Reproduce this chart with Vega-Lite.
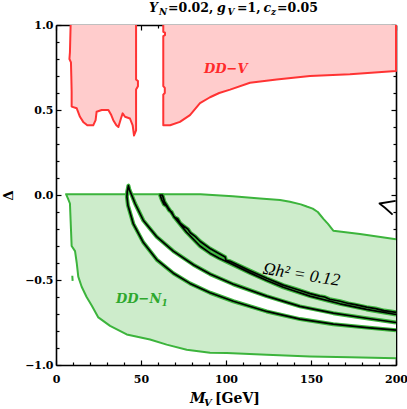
{
  "$schema": "https://vega.github.io/schema/vega-lite/v6.json",
  "width": 340,
  "height": 340,
  "autosize": {"type": "none"},
  "padding": {"left": 56, "top": 25, "right": 11, "bottom": 44},
  "background": "white",
  "config": {
    "view": {"stroke": null},
    "axis": {
      "domainColor": "black", "domainWidth": 1.6, "tickColor": "black", "tickWidth": 1.2,
      "labelFont": "DejaVu Serif", "labelFontWeight": "bold", "labelFontSize": 11, "labelColor": "black",
      "grid": false, "zindex": 1, "labelFlush": false, "labelOverlap": false,
      "titleFont": "DejaVu Serif", "titleFontWeight": "bold", "titleColor": "black"
    }
  },
  "datasets": {
    "red": [
      {"g": "r1", "o": 1, "x": 8.6, "y": 1.0}, {"g": "r1", "o": 2, "x": 8.4, "y": 0.92}, {"g": "r1", "o": 3, "x": 8.2, "y": 0.84},
      {"g": "r1", "o": 4, "x": 7.9, "y": 0.8}, {"g": "r1", "o": 5, "x": 8.8, "y": 0.78}, {"g": "r1", "o": 6, "x": 9.0, "y": 0.7},
      {"g": "r1", "o": 7, "x": 9.2, "y": 0.61}, {"g": "r1", "o": 8, "x": 9.2, "y": 0.52}, {"g": "r1", "o": 9, "x": 12.2, "y": 0.51},
      {"g": "r1", "o": 10, "x": 14.1, "y": 0.46}, {"g": "r1", "o": 11, "x": 16.0, "y": 0.43}, {"g": "r1", "o": 12, "x": 18.4, "y": 0.41},
      {"g": "r1", "o": 13, "x": 21.9, "y": 0.41}, {"g": "r1", "o": 14, "x": 23.3, "y": 0.44}, {"g": "r1", "o": 15, "x": 23.9, "y": 0.49},
      {"g": "r1", "o": 16, "x": 26.9, "y": 0.5}, {"g": "r1", "o": 17, "x": 30.8, "y": 0.5}, {"g": "r1", "o": 18, "x": 32.5, "y": 0.47},
      {"g": "r1", "o": 19, "x": 33.7, "y": 0.44}, {"g": "r1", "o": 20, "x": 35.5, "y": 0.41}, {"g": "r1", "o": 21, "x": 36.7, "y": 0.4},
      {"g": "r1", "o": 22, "x": 38.2, "y": 0.45}, {"g": "r1", "o": 23, "x": 39.2, "y": 0.48}, {"g": "r1", "o": 24, "x": 40.6, "y": 0.46},
      {"g": "r1", "o": 25, "x": 43.5, "y": 0.45}, {"g": "r1", "o": 26, "x": 45.1, "y": 0.41}, {"g": "r1", "o": 27, "x": 45.9, "y": 0.35},
      {"g": "r1", "o": 28, "x": 47.1, "y": 0.38}, {"g": "r1", "o": 29, "x": 47.1, "y": 0.62}, {"g": "r1", "o": 30, "x": 48.2, "y": 0.64},
      {"g": "r1", "o": 31, "x": 48.2, "y": 0.67}, {"g": "r1", "o": 32, "x": 47.1, "y": 0.68}, {"g": "r1", "o": 33, "x": 47.1, "y": 1.0},
      {"g": "r2", "o": 1, "x": 63.1, "y": 1.0}, {"g": "r2", "o": 2, "x": 63.1, "y": 0.96}, {"g": "r2", "o": 3, "x": 64.1, "y": 0.955},
      {"g": "r2", "o": 4, "x": 64.1, "y": 0.94}, {"g": "r2", "o": 5, "x": 63.1, "y": 0.935}, {"g": "r2", "o": 6, "x": 63.1, "y": 0.64},
      {"g": "r2", "o": 7, "x": 64.0, "y": 0.63}, {"g": "r2", "o": 8, "x": 64.0, "y": 0.6}, {"g": "r2", "o": 9, "x": 63.1, "y": 0.59},
      {"g": "r2", "o": 10, "x": 63.1, "y": 0.41}, {"g": "r2", "o": 11, "x": 67.1, "y": 0.41}, {"g": "r2", "o": 12, "x": 72.9, "y": 0.43},
      {"g": "r2", "o": 13, "x": 78.8, "y": 0.47}, {"g": "r2", "o": 14, "x": 84.7, "y": 0.54}, {"g": "r2", "o": 15, "x": 90.6, "y": 0.575},
      {"g": "r2", "o": 16, "x": 96.0, "y": 0.6}, {"g": "r2", "o": 17, "x": 102.4, "y": 0.62}, {"g": "r2", "o": 18, "x": 114.1, "y": 0.66},
      {"g": "r2", "o": 19, "x": 129.8, "y": 0.68}, {"g": "r2", "o": 20, "x": 149.4, "y": 0.7}, {"g": "r2", "o": 21, "x": 172.9, "y": 0.71},
      {"g": "r2", "o": 22, "x": 200, "y": 0.73}, {"g": "r2", "o": 23, "x": 200, "y": 1.0}
    ],
    "green": [
      {"g": "g1", "o": 1, "x": 200, "y": -0.96}, {"g": "g1", "o": 2, "x": 172.9, "y": -0.955}, {"g": "g1", "o": 3, "x": 149.4, "y": -0.95},
      {"g": "g1", "o": 4, "x": 124, "y": -0.94}, {"g": "g1", "o": 5, "x": 100.4, "y": -0.93}, {"g": "g1", "o": 6, "x": 90.6, "y": -0.928},
      {"g": "g1", "o": 7, "x": 76.9, "y": -0.91}, {"g": "g1", "o": 8, "x": 65.1, "y": -0.88}, {"g": "g1", "o": 9, "x": 55.3, "y": -0.85},
      {"g": "g1", "o": 10, "x": 41.6, "y": -0.82}, {"g": "g1", "o": 11, "x": 31.8, "y": -0.77}, {"g": "g1", "o": 12, "x": 24.9, "y": -0.72},
      {"g": "g1", "o": 13, "x": 21.0, "y": -0.65}, {"g": "g1", "o": 14, "x": 18.0, "y": -0.6}, {"g": "g1", "o": 15, "x": 15.1, "y": -0.54},
      {"g": "g1", "o": 16, "x": 13.1, "y": -0.48}, {"g": "g1", "o": 17, "x": 12.2, "y": -0.4}, {"g": "g1", "o": 18, "x": 11.2, "y": -0.33},
      {"g": "g1", "o": 19, "x": 9.2, "y": -0.3}, {"g": "g1", "o": 20, "x": 8.6, "y": -0.15}, {"g": "g1", "o": 21, "x": 8.2, "y": -0.05},
      {"g": "g1", "o": 22, "x": 7.0, "y": -0.02}, {"g": "g1", "o": 23, "x": 5.9, "y": 0.005}, {"g": "g1", "o": 24, "x": 85, "y": 0.005},
      {"g": "g1", "o": 25, "x": 92, "y": 0.0}, {"g": "g1", "o": 26, "x": 104, "y": -0.008}, {"g": "g1", "o": 27, "x": 120, "y": -0.02},
      {"g": "g1", "o": 28, "x": 131.8, "y": -0.03}, {"g": "g1", "o": 29, "x": 137.6, "y": -0.04}, {"g": "g1", "o": 30, "x": 144, "y": -0.055},
      {"g": "g1", "o": 31, "x": 147.5, "y": -0.068}, {"g": "g1", "o": 32, "x": 151, "y": -0.08}, {"g": "g1", "o": 33, "x": 154, "y": -0.1},
      {"g": "g1", "o": 34, "x": 157.3, "y": -0.14}, {"g": "g1", "o": 35, "x": 160, "y": -0.17}, {"g": "g1", "o": 36, "x": 163.1, "y": -0.21},
      {"g": "g1", "o": 37, "x": 178.8, "y": -0.23}, {"g": "g1", "o": 38, "x": 200, "y": -0.26},
      {"g": "dot", "o": 1, "x": 9.6, "y": -0.475}, {"g": "dot", "o": 2, "x": 9.8, "y": -0.505}
    ],
    "bands": [
      {"g": "band", "o": 1, "x": 200, "y": -0.75}, {"g": "band", "o": 2, "x": 182.7, "y": -0.725}, {"g": "band", "o": 3, "x": 163.1, "y": -0.695},
      {"g": "band", "o": 4, "x": 143.5, "y": -0.655}, {"g": "band", "o": 5, "x": 123.9, "y": -0.595}, {"g": "band", "o": 6, "x": 104.3, "y": -0.525},
      {"g": "band", "o": 7, "x": 90.6, "y": -0.465}, {"g": "band", "o": 8, "x": 80.8, "y": -0.41}, {"g": "band", "o": 9, "x": 69, "y": -0.33},
      {"g": "band", "o": 10, "x": 59.2, "y": -0.245}, {"g": "band", "o": 11, "x": 51.4, "y": -0.15}, {"g": "band", "o": 12, "x": 46.5, "y": -0.05},
      {"g": "band", "o": 13, "x": 44.5, "y": 0.0}, {"g": "band", "o": 14, "x": 43.2, "y": 0.03}, {"g": "band", "o": 15, "x": 42.6, "y": 0.055},
      {"g": "band", "o": 16, "x": 41.9, "y": 0.02}, {"g": "band", "o": 17, "x": 41.7, "y": -0.01}, {"g": "band", "o": 18, "x": 42.3, "y": -0.06},
      {"g": "band", "o": 19, "x": 45.5, "y": -0.17}, {"g": "band", "o": 20, "x": 51.4, "y": -0.28}, {"g": "band", "o": 21, "x": 59.2, "y": -0.38},
      {"g": "band", "o": 22, "x": 69, "y": -0.46}, {"g": "band", "o": 23, "x": 78.8, "y": -0.52}, {"g": "band", "o": 24, "x": 90.6, "y": -0.575},
      {"g": "band", "o": 25, "x": 104.3, "y": -0.625}, {"g": "band", "o": 26, "x": 123.9, "y": -0.685}, {"g": "band", "o": 27, "x": 143.5, "y": -0.73},
      {"g": "band", "o": 28, "x": 163.1, "y": -0.76}, {"g": "band", "o": 29, "x": 182.7, "y": -0.78}, {"g": "band", "o": 30, "x": 200, "y": -0.795},
      {"g": "pair", "o": 1, "x": 200, "y": -0.69}, {"g": "pair", "o": 2, "x": 193, "y": -0.68}, {"g": "pair", "o": 3, "x": 188, "y": -0.668},
      {"g": "pair", "o": 4, "x": 182.7, "y": -0.66}, {"g": "pair", "o": 5, "x": 176, "y": -0.645}, {"g": "pair", "o": 6, "x": 172, "y": -0.638},
      {"g": "pair", "o": 7, "x": 167.1, "y": -0.625}, {"g": "pair", "o": 8, "x": 161, "y": -0.613}, {"g": "pair", "o": 9, "x": 158, "y": -0.6},
      {"g": "pair", "o": 10, "x": 155, "y": -0.595}, {"g": "pair", "o": 11, "x": 149.4, "y": -0.58}, {"g": "pair", "o": 12, "x": 140, "y": -0.55},
      {"g": "pair", "o": 13, "x": 133.7, "y": -0.53}, {"g": "pair", "o": 14, "x": 124, "y": -0.49}, {"g": "pair", "o": 15, "x": 114.1, "y": -0.445},
      {"g": "pair", "o": 16, "x": 102.4, "y": -0.39}, {"g": "pair", "o": 17, "x": 100, "y": -0.385}, {"g": "pair", "o": 18, "x": 99.5, "y": -0.365},
      {"g": "pair", "o": 19, "x": 95, "y": -0.34}, {"g": "pair", "o": 20, "x": 90.6, "y": -0.315}, {"g": "pair", "o": 21, "x": 84.7, "y": -0.272},
      {"g": "pair", "o": 22, "x": 82, "y": -0.245}, {"g": "pair", "o": 23, "x": 79, "y": -0.222}, {"g": "pair", "o": 24, "x": 77.5, "y": -0.2},
      {"g": "pair", "o": 25, "x": 75, "y": -0.182}, {"g": "pair", "o": 26, "x": 73, "y": -0.165}, {"g": "pair", "o": 27, "x": 71.5, "y": -0.14},
      {"g": "pair", "o": 28, "x": 69.5, "y": -0.13}, {"g": "pair", "o": 29, "x": 68, "y": -0.1}, {"g": "pair", "o": 30, "x": 66.5, "y": -0.09},
      {"g": "pair", "o": 31, "x": 65, "y": -0.065}, {"g": "pair", "o": 32, "x": 63.5, "y": -0.055}, {"g": "pair", "o": 33, "x": 62.3, "y": -0.03},
      {"g": "pair", "o": 34, "x": 61.2, "y": 0.0}, {"g": "pair", "o": 35, "x": 62.6, "y": 0.0}, {"g": "pair", "o": 36, "x": 63.8, "y": -0.04},
      {"g": "pair", "o": 37, "x": 66, "y": -0.075}, {"g": "pair", "o": 38, "x": 70, "y": -0.135}, {"g": "pair", "o": 39, "x": 76.9, "y": -0.22},
      {"g": "pair", "o": 40, "x": 84.7, "y": -0.3}, {"g": "pair", "o": 41, "x": 90.6, "y": -0.342}, {"g": "pair", "o": 42, "x": 96, "y": -0.372},
      {"g": "pair", "o": 43, "x": 102.4, "y": -0.402}, {"g": "pair", "o": 44, "x": 114.1, "y": -0.458}, {"g": "pair", "o": 45, "x": 124, "y": -0.503},
      {"g": "pair", "o": 46, "x": 133.7, "y": -0.543}, {"g": "pair", "o": 47, "x": 149.4, "y": -0.595}, {"g": "pair", "o": 48, "x": 167.1, "y": -0.64},
      {"g": "pair", "o": 49, "x": 182.7, "y": -0.673}, {"g": "pair", "o": 50, "x": 200, "y": -0.703}
    ],
    "hook": [
      {"o": 1, "x": 199.8, "y": -0.035}, {"o": 2, "x": 190.3, "y": -0.05}, {"o": 3, "x": 193.5, "y": -0.075}, {"o": 4, "x": 198, "y": -0.115}
    ],
    "titleItalic": [{"t": "Y", "x": 54.7, "y": 1.0747}, {"t": "g", "x": 94.7, "y": 1.0747}, {"t": "c", "x": 122.1, "y": 1.0747}],
    "titleSub": [{"t": "N", "x": 60.6, "y": 1.0588}, {"t": "V", "x": 100.9, "y": 1.0588}, {"t": "z", "x": 126.5, "y": 1.0588}],
    "titlePlain": [{"t": "=0.02,", "x": 65.9, "y": 1.0747}, {"t": "=1,", "x": 106.5, "y": 1.0747}, {"t": "=0.05", "x": 130.0, "y": 1.0747}],
    "xtitleM": [{"t": "M", "x": 78.8, "y": -1.2235}],
    "xtitleSub": [{"t": "V", "x": 87.1, "y": -1.244}],
    "xtitleUnit": [{"t": "[GeV]", "x": 93.5, "y": -1.2235}],
    "labRed": [{"t": "DD−V", "x": 87.1, "y": 0.72}],
    "labGreen": [{"t": "DD−N", "x": 35.3, "y": -0.635}],
    "labGreenSub": [{"t": "1", "x": 62.0, "y": -0.653}],
    "labOmega": [{"t": "Ωh² = 0.12", "x": 144.4, "y": -0.47}]
  },
  "layer": [
    {
      "data": {"name": "red"},
      "mark": {"type": "line", "fill": "#ffcccc", "stroke": "#ff3333", "strokeWidth": 2, "strokeJoin": "round"},
      "encoding": {
        "x": {"field": "x", "type": "quantitative", "scale": {"domain": [0, 200], "nice": false, "zero": false},
              "axis": {"orient": "bottom", "values": [0, 50, 100, 150, 200], "tickSize": -5, "labelPadding": 13, "title": null}},
        "y": {"field": "y", "type": "quantitative", "scale": {"domain": [-1, 1], "nice": false, "zero": false},
              "axis": {"orient": "left", "values": [-1, -0.5, 0, 0.5, 1], "format": ".1f", "tickSize": -5, "labelPadding": 8, "title": "Δ", "titleFontSize": 13, "titlePadding": 9}},
        "detail": {"field": "g"},
        "order": {"field": "o", "type": "quantitative"}
      }
    },
    {
      "data": {"name": "green"},
      "mark": {"type": "line", "fill": "#cdeccb", "stroke": "#3cb43c", "strokeWidth": 2, "strokeJoin": "round"},
      "encoding": {
        "x": {"field": "x", "type": "quantitative", "axis": {"orient": "top", "values": [0, 50, 100, 150, 200], "tickSize": -5, "labels": false, "title": null}},
        "y": {"field": "y", "type": "quantitative", "axis": {"orient": "right", "values": [-1, -0.5, 0, 0.5, 1], "tickSize": -5, "labels": false, "title": null}},
        "detail": {"field": "g"},
        "order": {"field": "o", "type": "quantitative"}
      }
    },
    {
      "data": {"name": "bands"},
      "mark": {"type": "line", "fill": "white", "stroke": "white", "strokeWidth": 0.5},
      "encoding": {
        "x": {"field": "x", "type": "quantitative", "axis": {"orient": "bottom", "values": [10, 20, 30, 40, 60, 70, 80, 90, 110, 120, 130, 140, 160, 170, 180, 190], "tickSize": -3, "labels": false, "domain": false, "title": null}},
        "y": {"field": "y", "type": "quantitative", "axis": {"orient": "left", "values": [-0.9, -0.8, -0.7, -0.6, -0.4, -0.3, -0.2, -0.1, 0.1, 0.2, 0.3, 0.4, 0.6, 0.7, 0.8, 0.9], "tickSize": -3, "labels": false, "domain": false, "title": null}},
        "detail": {"field": "g"},
        "order": {"field": "o", "type": "quantitative"}
      }
    },
    {
      "data": {"name": "bands"},
      "mark": {"type": "line", "stroke": "#3cb43c", "strokeWidth": 4, "strokeJoin": "round"},
      "encoding": {
        "x": {"field": "x", "type": "quantitative", "axis": {"orient": "top", "values": [10, 20, 30, 40, 60, 70, 80, 90, 110, 120, 130, 140, 160, 170, 180, 190], "tickSize": -3, "labels": false, "domain": false, "title": null}},
        "y": {"field": "y", "type": "quantitative", "axis": {"orient": "right", "values": [-0.9, -0.8, -0.7, -0.6, -0.4, -0.3, -0.2, -0.1, 0.1, 0.2, 0.3, 0.4, 0.6, 0.7, 0.8, 0.9], "tickSize": -3, "labels": false, "domain": false, "title": null}},
        "detail": {"field": "g"},
        "order": {"field": "o", "type": "quantitative"}
      }
    },
    {
      "data": {"name": "bands"},
      "mark": {"type": "line", "stroke": "black", "strokeWidth": 1.7, "strokeJoin": "round"},
      "encoding": {
        "x": {"field": "x", "type": "quantitative", "axis": null},
        "y": {"field": "y", "type": "quantitative", "axis": null},
        "detail": {"field": "g"},
        "order": {"field": "o", "type": "quantitative"}
      }
    },
    {
      "data": {"name": "hook"},
      "mark": {"type": "line", "stroke": "black", "strokeWidth": 1.8, "strokeJoin": "round"},
      "encoding": {
        "x": {"field": "x", "type": "quantitative", "axis": null},
        "y": {"field": "y", "type": "quantitative", "axis": null},
        "order": {"field": "o", "type": "quantitative"}
      }
    },
    {
      "mark": {"type": "rule", "color": "#8a8a8a", "strokeWidth": 2.8},
      "encoding": {"y": {"datum": 0, "type": "quantitative", "axis": null}}
    },
    {
      "data": {"name": "titleItalic"},
      "mark": {"type": "text", "font": "DejaVu Serif", "fontWeight": "bold", "fontStyle": "italic", "fontSize": 12.5, "align": "left", "baseline": "alphabetic", "color": "black"},
      "encoding": {"x": {"field": "x", "type": "quantitative", "axis": null}, "y": {"field": "y", "type": "quantitative", "axis": null}, "text": {"field": "t"}}
    },
    {
      "data": {"name": "titleSub"},
      "mark": {"type": "text", "font": "DejaVu Serif", "fontWeight": "bold", "fontStyle": "italic", "fontSize": 9, "align": "left", "baseline": "alphabetic", "color": "black"},
      "encoding": {"x": {"field": "x", "type": "quantitative", "axis": null}, "y": {"field": "y", "type": "quantitative", "axis": null}, "text": {"field": "t"}}
    },
    {
      "data": {"name": "titlePlain"},
      "mark": {"type": "text", "font": "DejaVu Serif", "fontWeight": "bold", "fontSize": 12.5, "align": "left", "baseline": "alphabetic", "color": "black"},
      "encoding": {"x": {"field": "x", "type": "quantitative", "axis": null}, "y": {"field": "y", "type": "quantitative", "axis": null}, "text": {"field": "t"}}
    },
    {
      "data": {"name": "xtitleM"},
      "mark": {"type": "text", "font": "DejaVu Serif", "fontWeight": "bold", "fontStyle": "italic", "fontSize": 14, "align": "left", "baseline": "alphabetic", "color": "black"},
      "encoding": {"x": {"field": "x", "type": "quantitative", "axis": null}, "y": {"field": "y", "type": "quantitative", "axis": null}, "text": {"field": "t"}}
    },
    {
      "data": {"name": "xtitleSub"},
      "mark": {"type": "text", "font": "DejaVu Serif", "fontWeight": "bold", "fontStyle": "italic", "fontSize": 10, "align": "left", "baseline": "alphabetic", "color": "black"},
      "encoding": {"x": {"field": "x", "type": "quantitative", "axis": null}, "y": {"field": "y", "type": "quantitative", "axis": null}, "text": {"field": "t"}}
    },
    {
      "data": {"name": "xtitleUnit"},
      "mark": {"type": "text", "font": "DejaVu Serif", "fontWeight": "bold", "fontSize": 14, "align": "left", "baseline": "alphabetic", "color": "black"},
      "encoding": {"x": {"field": "x", "type": "quantitative", "axis": null}, "y": {"field": "y", "type": "quantitative", "axis": null}, "text": {"field": "t"}}
    },
    {
      "data": {"name": "labRed"},
      "mark": {"type": "text", "font": "DejaVu Serif", "fontWeight": "bold", "fontStyle": "italic", "fontSize": 13, "align": "left", "baseline": "alphabetic", "color": "#ff2a2a"},
      "encoding": {"x": {"field": "x", "type": "quantitative", "axis": null}, "y": {"field": "y", "type": "quantitative", "axis": null}, "text": {"field": "t"}}
    },
    {
      "data": {"name": "labGreen"},
      "mark": {"type": "text", "font": "DejaVu Serif", "fontWeight": "bold", "fontStyle": "italic", "fontSize": 13, "align": "left", "baseline": "alphabetic", "color": "#2ea82e"},
      "encoding": {"x": {"field": "x", "type": "quantitative", "axis": null}, "y": {"field": "y", "type": "quantitative", "axis": null}, "text": {"field": "t"}}
    },
    {
      "data": {"name": "labGreenSub"},
      "mark": {"type": "text", "font": "DejaVu Serif", "fontWeight": "bold", "fontStyle": "italic", "fontSize": 9, "align": "left", "baseline": "alphabetic", "color": "#2ea82e"},
      "encoding": {"x": {"field": "x", "type": "quantitative", "axis": null}, "y": {"field": "y", "type": "quantitative", "axis": null}, "text": {"field": "t"}}
    },
    {
      "data": {"name": "labOmega"},
      "mark": {"type": "text", "font": "Liberation Serif", "fontStyle": "italic", "fontSize": 17.5, "align": "center", "baseline": "middle", "angle": 9, "color": "black"},
      "encoding": {"x": {"field": "x", "type": "quantitative", "axis": null}, "y": {"field": "y", "type": "quantitative", "axis": null}, "text": {"field": "t"}}
    }
  ],
  "resolve": {"axis": {"x": "independent", "y": "independent"}}
}
